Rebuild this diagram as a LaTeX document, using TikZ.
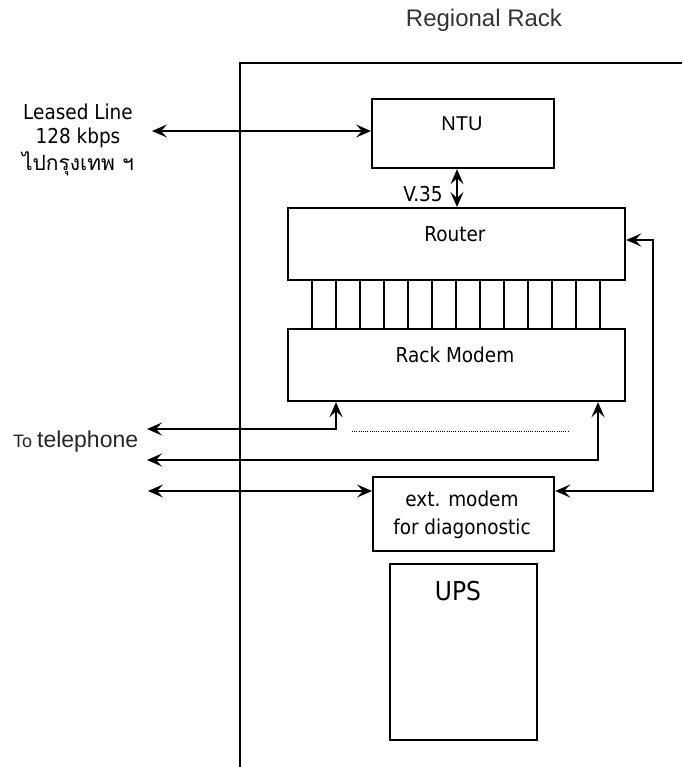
\documentclass[tikz,border=0pt]{standalone}
\usepackage{fontspec}
\setmainfont{DejaVu Sans Condensed}
\newfontfamily\arialfont{Liberation Sans}
\newfontfamily\thaifont[Script=Thai]{Loma}
\usetikzlibrary{arrows.meta,calc}

\begin{document}
\begin{tikzpicture}[x=1pt,y=-1pt,
  line width=2.2pt,
  >={Stealth[length=15pt,width=13pt,inset=6pt]},
  box/.style={draw, line width=2.2pt, inner sep=0pt, anchor=north west},
  txt/.style={inner sep=0pt, anchor=base, font=\fontsize{20.5}{24}\selectfont},
  atxt/.style={inner sep=0pt, anchor=base, font=\arialfont\fontsize{20}{24}\selectfont},
  bus/.style={line width=1.7pt}]
\useasboundingbox (0,0) rectangle (682,767);

% rack outline
\coordinate (rackbot) at (240,767);
\coordinate (racktop) at (240,63);
\coordinate (rackend) at (682,63);
\draw (rackbot) -- (racktop) -- (rackend);
\node[inner sep=0pt, anchor=base, text=black!80, font=\arialfont\fontsize{24}{28}\selectfont] (racktitle) at (484,27) {Regional Rack};

% equipment boxes
\node[box, minimum width=182pt, minimum height=69pt] (ntu) at (371,98) {};
\node[box, minimum width=337pt, minimum height=72pt] (router) at (287,207) {};
\node[box, minimum width=337pt, minimum height=72pt] (rmodem) at (287,328) {};
\node[box, minimum width=181pt, minimum height=74pt] (extmodem) at (372,476) {};
\node[box, minimum width=147pt, minimum height=176pt] (ups) at (389,563) {};

% box labels
\node[atxt] (ntut) at (462,131) {NTU};
\node[txt] (routert) at (455,241) {Router};
\node[txt] (rmodemt) at (455,362) {Rack Modem};
\node[txt] (extt1) at (462,506) {ext. modem};
\node[txt] (extt2) at (462,534) {for diagonostic};
\node[txt, font=\fontsize{26}{30}\selectfont] (upst) at (458,600) {UPS};

% leased line
\node[txt] (ll1) at (78,120) {Leased Line};
\node[txt] (ll2) at (78,144) {128 kbps};
\node[txt, font=\thaifont\fontsize{21}{24}\selectfont] (ll3) at (78,171) {ไปกรุงเทพ ฯ};
\coordinate (llend) at (152,131);
\draw[<->] (llend) -- (ntu.west |- llend);

% V.35 link between NTU and router
\coordinate (vx) at (457,0);
\draw[<->] (ntu.south -| vx) -- (router.north -| vx);
\node[txt] (v35) at (423,201) {V.35};

% parallel bus between router and rack modem
\foreach \i in {0,...,12}{
  \coordinate (b\i) at (312+24*\i,0);
  \draw[bus] (router.south -| b\i) -- (rmodem.north -| b\i);
}

% telephone lines
\coordinate (t1) at (147,429);
\coordinate (t1c) at (336,429);
\coordinate (t2) at (147,460);
\coordinate (t2c) at (598,460);
\draw[<->] (t1) -- (t1c) -- (rmodem.south -| t1c);
\draw[<->] (t2) -- (t2c) -- (rmodem.south -| t2c);
\coordinate (dotA) at (352,431.5);
\coordinate (dotB) at (569,431.5);
\draw[line width=1.2pt, dash pattern=on 1pt off 1.2pt] (dotA) -- (dotB);
\node[inner sep=0pt, anchor=base west, text=black!85] (tel) at (12,447)
  {\arialfont\fontsize{18}{20}\selectfont To \fontsize{23}{26}\selectfont telephone};

% diagnostic modem links
\coordinate (e1) at (148,491);
\coordinate (loopB) at (653,491);
\coordinate (loopT) at (653,240);
\draw[<->] (e1) -- (extmodem.west |- e1);
\draw[<->] (extmodem.east |- loopB) -- (loopB) -- (loopT) -- (router.east |- loopT);
\end{tikzpicture}
\end{document}
